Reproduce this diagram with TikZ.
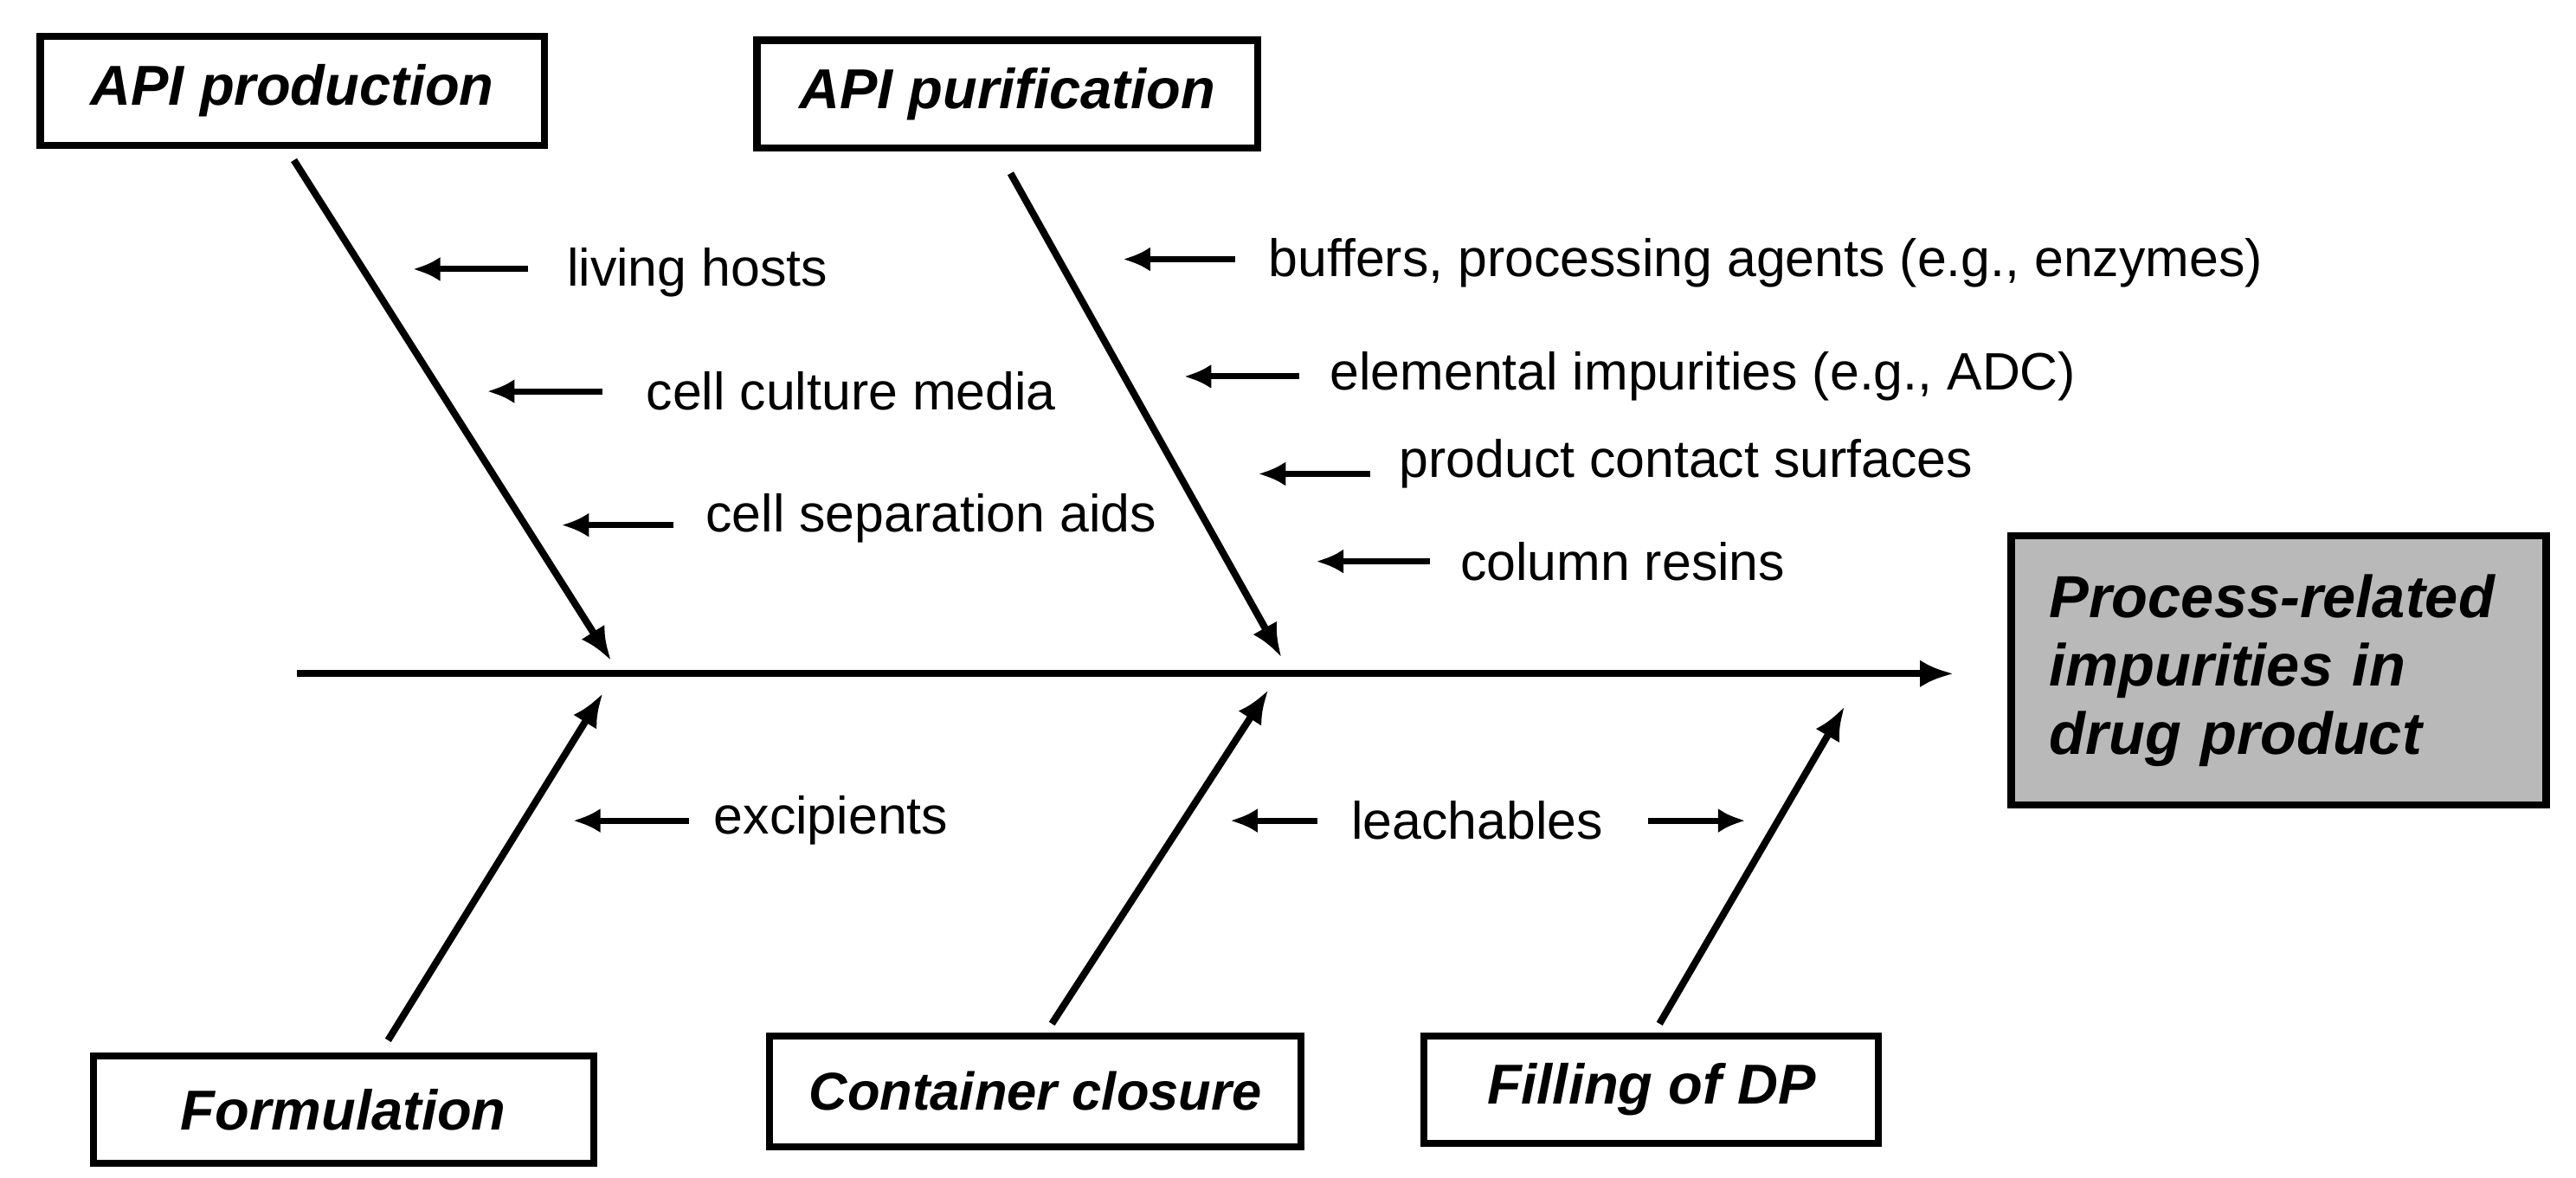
\documentclass[tikz,border=0pt]{standalone}
\usepackage{fontspec}
\setmainfont{Liberation Sans}
\usetikzlibrary{arrows.meta}
\begin{document}
\begin{tikzpicture}[x=0.01908cm,y=-0.01908cm,
  box/.style={draw,line width=2.4pt,font=\fontsize{18.5}{22}\selectfont\bfseries\itshape,inner sep=0pt},
  lbl/.style={anchor=west,font=\fontsize{17.3}{20}\selectfont,inner sep=0pt},
  bone/.style={line width=2.3pt,-{Latex[length=11pt,width=9pt]}},
  small/.style={line width=2pt,-{Latex[length=9pt,width=8pt]}}]
\useasboundingbox (0,0) rectangle (1560,713);
% boxes
\node[box,minimum width=5.82cm,minimum height=1.26cm] (prod) at (177,55) {API production};
\node[box,minimum width=5.78cm,minimum height=1.24cm] (pur) at (610,57) {API purification};
\node[box,minimum width=5.78cm,minimum height=1.24cm] (form) at (208,672) {Formulation};
\node[box,font=\fontsize{17.5}{22}\selectfont\bfseries\itshape,minimum width=6.14cm,minimum height=1.28cm] (cont) at (627,661) {Container closure};
\node[box,minimum width=5.25cm,minimum height=1.24cm] (fill) at (1000,660) {Filling of DP};
\node[box,fill=gray!55,font=\fontsize{19.5}{22.5}\selectfont\bfseries\itshape,minimum width=6.18cm,minimum height=3.11cm,align=left,text width=5.3cm] (res) at (1380,406) {Process-related\\impurities in\\drug product};
% spine
\coordinate (s0) at (180,408); \coordinate (s1) at (1183,408);
\draw[bone] (s0) -- (s1);
% bones
\coordinate (b1a) at (178,97); \coordinate (b1b) at (370,400);
\coordinate (b2a) at (612,105); \coordinate (b2b) at (776,398);
\coordinate (b3a) at (235,630); \coordinate (b3b) at (365,420);
\coordinate (b4a) at (637,620); \coordinate (b4b) at (768,418);
\coordinate (b5a) at (1005,620); \coordinate (b5b) at (1117,428);
\draw[bone] (b1a) -- (b1b);
\draw[bone] (b2a) -- (b2b);
\draw[bone] (b3a) -- (b3b);
\draw[bone] (b4a) -- (b4b);
\draw[bone] (b5a) -- (b5b);
% labels
\node[lbl] (t1) at (343,165) {living hosts};
\node[lbl] (t2) at (391,237) {cell culture media};
\node[lbl] (t3) at (427,314) {cell separation aids};
\node[lbl] (t4) at (768,159) {buffers, processing agents (e.g., enzymes)};
\node[lbl] (t5) at (805,228) {elemental impurities (e.g., ADC)};
\node[lbl] (t6) at (847,281) {product contact surfaces};
\node[lbl] (t7) at (884,340) {column resins};
\node[lbl] (t8) at (432,497) {excipients};
\node[lbl] (t9) at (818,497) {leachables};
% small arrows
\coordinate (a1) at (320,163); \coordinate (a1e) at (250,163);
\coordinate (a2) at (365,237); \coordinate (a2e) at (295,237);
\coordinate (a3) at (408,318); \coordinate (a3e) at (340,318);
\coordinate (a4) at (748,157); \coordinate (a4e) at (680,157);
\coordinate (a5) at (787,228); \coordinate (a5e) at (717,228);
\coordinate (a6) at (830,287); \coordinate (a6e) at (762,287);
\coordinate (a7) at (866,340); \coordinate (a7e) at (797,340);
\coordinate (a8) at (417,497); \coordinate (a8e) at (347,497);
\coordinate (a9) at (798,497); \coordinate (a9e) at (745,497);
\coordinate (a10) at (998,497); \coordinate (a10e) at (1057,497);
\foreach \i in {1,...,10} \draw[small] (a\i) -- (a\i e);
\end{tikzpicture}
\end{document}
